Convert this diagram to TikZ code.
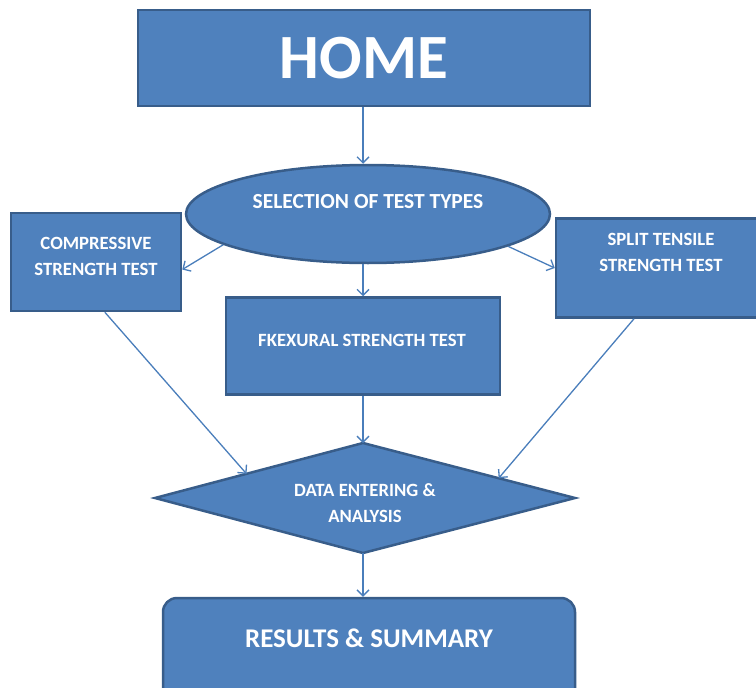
\documentclass[tikz,border=0pt]{standalone}
\usepackage{fontspec}
\setmainfont{Carlito}
\usetikzlibrary{shapes.geometric,arrows.meta,calc}
\definecolor{boxblue}{HTML}{4F81BD}
\definecolor{edgeblue}{HTML}{385D8A}
\definecolor{linkblue}{HTML}{4A7EBB}

\begin{document}
\begin{tikzpicture}[x=1pt, y=-1pt,
	box/.style={draw=edgeblue, fill=boxblue, line width=2.5pt, inner sep=0pt},
	txt/.style={text=white, font=\bfseries\fontsize{18.7}{26}\selectfont, align=center},
	link/.style={draw=linkblue, line width=1.3pt, -{Straight Barb[length=6pt,width=12pt]}}]
	\useasboundingbox (0,0) rectangle (756,688);
	\clip (0,0) rectangle (756,688);

	% boxes
	\node[box, minimum width=452, minimum height=96, text=white,
		font=\bfseries\fontsize{63}{70}\selectfont] (home) at (364,58) {HOME};
	\node[box, ellipse, minimum width=364, minimum height=98] (sel) at (368,214) {};
	\node[box, minimum width=170, minimum height=98] (comp) at (96,262) {};
	\node[box, minimum width=210, minimum height=99] (split) at (661,268) {};
	\node[box, minimum width=274, minimum height=97] (flex) at (363,346) {};
	\node[box, rounded corners=14, minimum width=412, minimum height=130] (res) at (369,663) {};

	\coordinate (dl) at (155,498);
	\coordinate (dt) at (363,443);
	\coordinate (dr) at (575,498);
	\coordinate (db) at (363,553);
	\draw[box] (dl) -- (dt) -- (dr) -- (db) -- cycle;

	% texts
	\node[txt, font=\bfseries\fontsize{21.5}{24}\selectfont] (seltxt) at (368,202) {SELECTION OF TEST TYPES};
	\node[txt] (comptxt) at (96,256) {COMPRESSIVE\\STRENGTH TEST};
	\node[txt] (splittxt) at (661,252) {SPLIT TENSILE\\STRENGTH TEST};
	\node[txt] (flextxt) at (362,340) {FKEXURAL STRENGTH TEST};
	\node[txt] (datatxt) at (365,503) {DATA ENTERING \&\\ANALYSIS};
	\node[txt, font=\bfseries\fontsize{27}{30}\selectfont] (restxt) at (369,638) {RESULTS \& SUMMARY};

	% links
	\coordinate (inleft) at ($(dl)!0.44!(dt)$);
	\coordinate (inright) at ($(dr)!0.36!(dt)$);
	\draw[link] (home.south -| dt) -- (sel.north -| dt);
	\draw[link] (sel.192) -- (comp.-5);
	\draw[link] (sel.-13) -- (split.west);
	\draw[link] (sel.south -| dt) -- (flex.north -| dt);
	\draw[link] (comp.-80) -- (inleft);
	\draw[link] (split.-118) -- (inright);
	\draw[link] (flex.south -| dt) -- (dt);
	\draw[link] (db) -- (res.north -| db);
\end{tikzpicture}
\end{document}
